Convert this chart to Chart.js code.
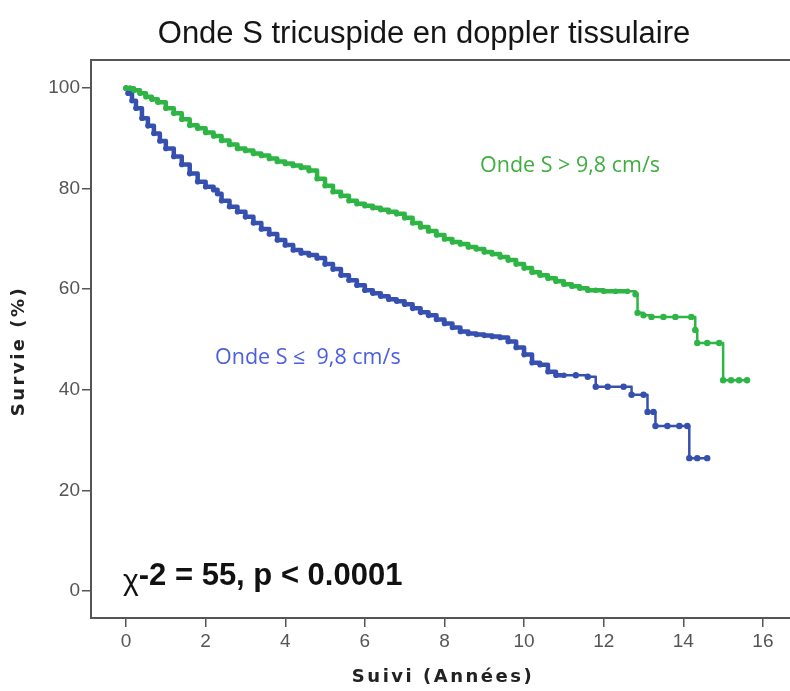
<!DOCTYPE html>
<html>
<head>
<meta charset="utf-8">
<script src="https://cdn.jsdelivr.net/npm/chart.js@4.4.0/dist/chart.umd.min.js"></script>
<style>
  body { margin: 0; background: #fff; }
  canvas { display: block; }
</style>
</head>
<body>
<canvas id="km" width="790" height="691"></canvas>
<script>
// Onde S > 9,8 cm/s (vert)
const greenT = [0, 0.1, 0.2, 0.35, 0.5, 0.65, 0.8, 1.0, 1.2, 1.4, 1.6, 1.8, 2.0, 2.2, 2.4, 2.6, 2.8, 3.0, 3.2, 3.4, 3.6, 3.8, 4.0, 4.2, 4.4, 4.6, 4.8, 5.0, 5.2, 5.4, 5.6, 5.8, 6.0, 6.2, 6.4, 6.6, 6.8, 7.0, 7.2, 7.4, 7.6, 7.8, 8.0, 8.2, 8.4, 8.6, 8.8, 9.0, 9.2, 9.4, 9.6, 9.8, 10.0, 10.2, 10.4, 10.6, 10.8, 11.0, 11.2, 11.4, 11.6, 11.8, 12.0, 12.3, 12.6, 12.8, 12.85, 13.0, 13.2, 13.5, 13.8, 14.2, 14.3, 14.35, 14.6, 14.9, 15.0, 15.2, 15.4, 15.6];
const greenS = [100, 100, 99.6, 99.0, 98.3, 97.8, 97.2, 96.0, 95.0, 93.8, 92.6, 92.0, 91.2, 90.5, 89.6, 88.8, 88.0, 87.6, 87.0, 86.6, 86.0, 85.4, 85.0, 84.6, 84.2, 83.6, 82.0, 80.6, 79.4, 78.6, 77.6, 77.0, 76.6, 76.2, 75.8, 75.4, 75.0, 74.2, 73.2, 72.4, 71.6, 70.8, 70.0, 69.4, 69.0, 68.4, 68.0, 67.4, 67.0, 66.4, 65.8, 65.0, 64.2, 63.4, 62.8, 62.2, 61.6, 61.0, 60.6, 60.2, 59.8, 59.8, 59.6, 59.6, 59.6, 59.0, 55.3, 54.8, 54.5, 54.5, 54.5, 54.5, 51.9, 49.3, 49.3, 49.3, 41.9, 41.9, 41.9, 41.9];

// Onde S <= 9,8 cm/s (bleu)
const blueT = [0, 0.05, 0.15, 0.25, 0.4, 0.55, 0.7, 0.85, 1.0, 1.2, 1.4, 1.6, 1.8, 2.0, 2.2, 2.3, 2.4, 2.6, 2.8, 3.0, 3.2, 3.4, 3.6, 3.8, 4.0, 4.2, 4.4, 4.6, 4.8, 5.0, 5.2, 5.4, 5.6, 5.8, 6.0, 6.2, 6.4, 6.6, 6.8, 7.0, 7.2, 7.4, 7.6, 7.8, 8.0, 8.2, 8.4, 8.6, 8.8, 9.0, 9.2, 9.4, 9.6, 9.8, 10.0, 10.2, 10.4, 10.6, 10.8, 11.0, 11.3, 11.6, 11.8, 12.1, 12.5, 12.7, 13.0, 13.1, 13.25, 13.3, 13.6, 13.9, 14.1, 14.15, 14.35, 14.6];
const blueS = [100, 99.0, 97.5, 96.0, 94.0, 92.5, 91.0, 89.5, 88.0, 86.4, 84.8, 83.0, 81.4, 80.4, 79.8, 79.0, 77.6, 76.4, 75.4, 74.4, 73.2, 72.0, 71.0, 69.8, 68.8, 67.8, 67.2, 66.8, 66.2, 65.0, 64.0, 62.8, 61.8, 60.8, 59.8, 59.2, 58.6, 58.0, 57.6, 57.0, 56.2, 55.4, 54.8, 54.0, 53.2, 52.4, 51.6, 51.2, 51.0, 50.8, 50.6, 50.4, 49.6, 48.4, 47.0, 45.4, 45.0, 43.6, 42.9, 42.9, 42.9, 42.6, 40.6, 40.6, 40.6, 39.0, 39.0, 35.6, 35.6, 32.8, 32.8, 32.8, 32.8, 26.4, 26.4, 26.4];

const xTicks = [0, 2, 4, 6, 8, 10, 12, 14, 16];
const yTicks = [0, 20, 40, 60, 80, 100];

const toXY = (t, s) => t.map((v, i) => ({ x: v, y: s[i] }));

const FONT = '"Liberation Sans", Arial, sans-serif';

// partie dense de la courbe = trait epais, fin de suivi = trait fin
const width = (limit) => (c) => (c.p1.parsed.x <= limit ? 4.5 : 2.5);
const radius = (limit) => (c) => (c.parsed && c.parsed.x <= limit ? 2.8 : 3.2);

// titre, textes en plus, cadre du haut
const extraText = {
    id: 'extraText',
    afterDraw(chart) {
        const { ctx, chartArea: { top, left, right } } = chart;
        ctx.save();
        ctx.strokeStyle = '#555';
        ctx.lineWidth = 2;
        ctx.beginPath();
        ctx.moveTo(left, top);
        ctx.lineTo(right, top);
        ctx.stroke();

        ctx.fillStyle = '#151515';
        ctx.textAlign = 'center';
        ctx.textBaseline = 'alphabetic';
        ctx.font = '31px ' + FONT;
        ctx.fillText('Onde S tricuspide en doppler tissulaire', 424, 43);

        ctx.fillStyle = '#222';
        ctx.font = 'bold 18px "DejaVu Sans", sans-serif';
        ctx.letterSpacing = '2.5px';
        ctx.textBaseline = 'middle';
        ctx.fillText('Suivi (Années)', 443, 677);
        ctx.translate(19, 351);
        ctx.rotate(-Math.PI / 2);
        ctx.fillText('Survie (%)', 0, 0);
        ctx.restore();

        ctx.save();
        ctx.textBaseline = 'alphabetic';
        ctx.fillStyle = '#111';
        ctx.font = '30px ' + FONT;
        ctx.fillText('χ', 123, 590);
        const w = ctx.measureText('χ').width;
        ctx.font = 'bold 31px ' + FONT;
        ctx.fillText('-2 = 55, p < 0.0001', 123 + w, 585);

        ctx.font = '21.5px "Open Sans", sans-serif';
        ctx.fillStyle = '#3fae3f';
        ctx.fillText('Onde S > 9,8 cm/s', 480, 172);
        ctx.fillStyle = '#4a5ee0';
        ctx.fillText('Onde S ≤  9,8 cm/s', 215, 364);
        ctx.restore();
    }
};

new Chart(document.getElementById('km'), {
    type: 'line',
    data: {
        datasets: [{
            label: 'Onde S > 9,8 cm/s',
            data: toXY(greenT, greenS),
            borderColor: '#2fb545',
            backgroundColor: '#2fb545',
            borderWidth: 2.5,
            borderJoinStyle: 'round',
            borderCapStyle: 'round',
            segment: { borderWidth: width(12.7) },
            pointRadius: radius(12.7),
            pointBorderWidth: 0,
            stepped: true,
            fill: false
        }, {
            label: 'Onde S ≤ 9,8 cm/s',
            data: toXY(blueT, blueS),
            borderColor: '#3650b0',
            backgroundColor: '#3650b0',
            borderWidth: 2.5,
            borderJoinStyle: 'round',
            borderCapStyle: 'round',
            segment: { borderWidth: width(11.0) },
            pointRadius: radius(11.0),
            pointBorderWidth: 0,
            stepped: true,
            fill: false
        }]
    },
    options: {
        responsive: false,
        animation: false,
        layout: { autoPadding: false, padding: { top: 60, left: 0, right: 0, bottom: 0 } },
        plugins: {
            legend: { display: false },
            tooltip: { enabled: false },
            title: { display: false }
        },
        scales: {
            x: {
                type: 'linear',
                min: -0.88,
                max: 16.68,
                afterBuildTicks: (scale) => { scale.ticks = xTicks.map(v => ({ value: v })); },
                afterFit: (scale) => { scale.height = 73; },
                ticks: {
                    color: '#555',
                    padding: 3,
                    font: { size: 19, family: FONT }
                },
                grid: { drawOnChartArea: false, tickLength: 9, color: '#555', lineWidth: 1.5 },
                border: { color: '#555', width: 2 }
            },
            y: {
                min: -5.4,
                max: 105.6,
                afterBuildTicks: (scale) => { scale.ticks = yTicks.map(v => ({ value: v })); },
                afterFit: (scale) => { scale.width = 91; },
                ticks: {
                    color: '#555',
                    padding: 2,
                    font: { size: 19, family: FONT }
                },
                grid: { drawOnChartArea: false, tickLength: 9, color: '#555', lineWidth: 1.5 },
                border: { color: '#555', width: 2 }
            }
        }
    },
    plugins: [extraText]
});
</script>
</body>
</html>
